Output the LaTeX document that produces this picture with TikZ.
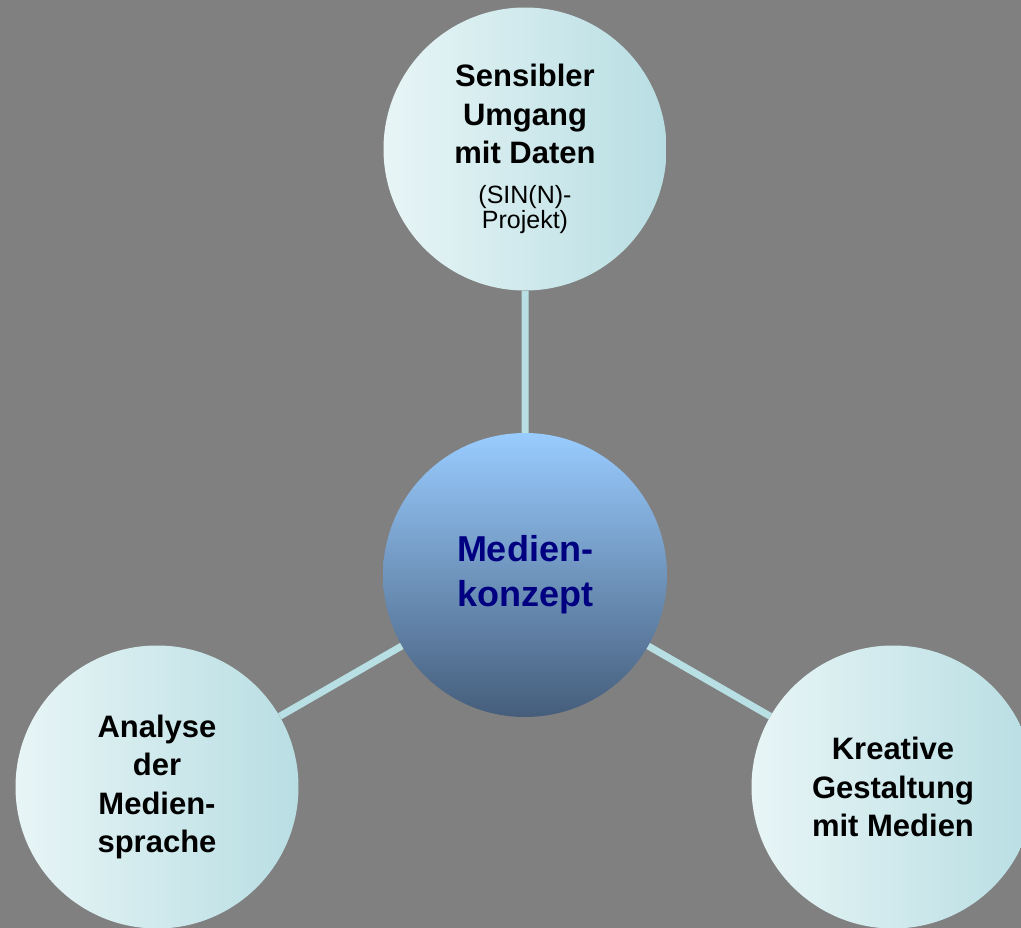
\documentclass[tikz,border=0pt]{standalone}
\usepackage{fontspec}
\setmainfont{Liberation Sans}
\definecolor{bggray}{HTML}{808080}
\definecolor{outerL}{HTML}{E8F5F6}
\definecolor{outerR}{HTML}{B8DEE3}
\definecolor{coreT}{HTML}{99CCFF}
\definecolor{coreB}{HTML}{455D7B}
\definecolor{coreText}{HTML}{000080}
\definecolor{linkcol}{HTML}{B8E0E4}
\begin{document}
\begin{tikzpicture}[x=1pt,y=-1pt,
  outer/.style={circle, minimum size=283pt, inner sep=0pt, left color=outerL, right color=outerR,
    align=center, font=\bfseries\fontsize{31}{38.5}\selectfont},
  core/.style={circle, minimum size=284pt, inner sep=0pt, top color=coreT, bottom color=coreB,
    text=coreText, align=center, font=\bfseries\fontsize{36}{45}\selectfont},
  link/.style={linkcol, line width=7pt}]
			\useasboundingbox (0,0) rectangle (1021,928);
			\clip (0,0) rectangle (1021,928);
			\fill[bggray] (0,0) rectangle (1021,928);

			\node (core) [core] at (525,575) {Medien-\\konzept};
			\node (daten) [outer] at (525,149) {Sensibler\\Umgang\\mit Daten\\[1pt]
				{\mdseries\fontsize{25}{26}\selectfont (SIN(N)-}\\[-13pt]{\mdseries\fontsize{25}{26}\selectfont Projekt)}};
			\node (analyse) [outer] at (157,787) {Analyse\\der\\Medien-\\sprache};
			\node (gestalt) [outer] at (893,787) {Kreative\\Gestaltung\\mit Medien};

			\draw[link]
			(core) -- (daten)
			(core) -- (analyse)
			(core) -- (gestalt);
		\end{tikzpicture}
\end{document}
